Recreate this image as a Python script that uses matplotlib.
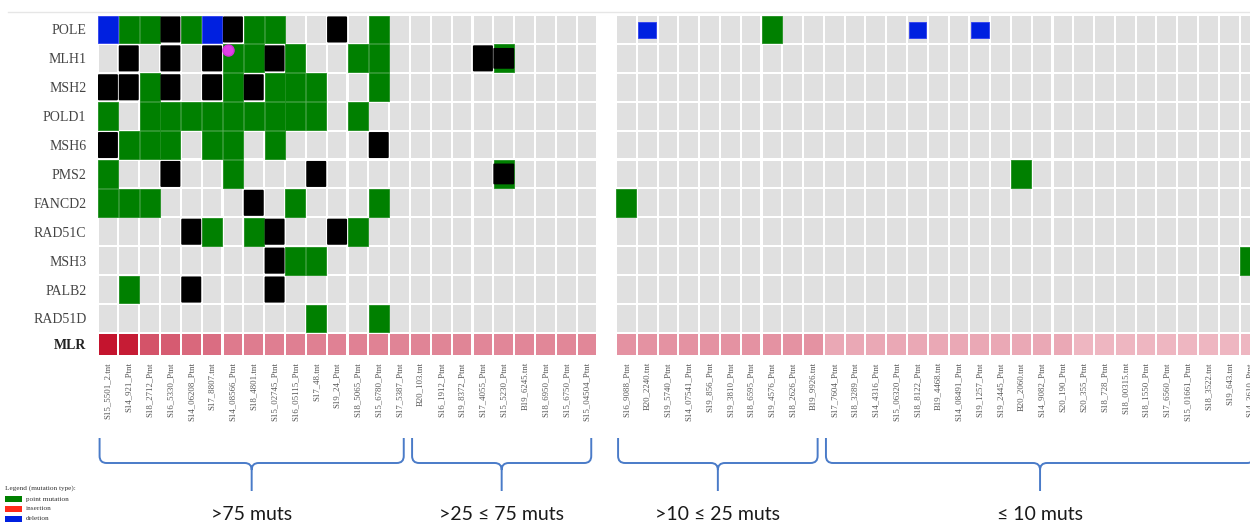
import numpy as np
import matplotlib
matplotlib.use("Agg")
import matplotlib.pyplot as plt
from matplotlib.patches import Rectangle, FancyBboxPatch, PathPatch
from matplotlib.path import Path
from matplotlib.colors import LinearSegmentedColormap

# ---------------- data ----------------
genes = ["POLE", "MLH1", "MSH2", "POLD1", "MSH6", "PMS2", "FANCD2",
         "RAD51C", "MSH3", "PALB2", "RAD51D"]

samples_left = ["S15_5501_2.tnt", "S14_921_Ptnt", "S18_2712_Ptnt", "S16_5330_Ptnt",
                "S14_06208_Ptnt", "S17_8807.tnt", "S14_08566_Ptnt", "S18_4801.tnt",
                "S15_02745_Ptnt", "S16_05115_Ptnt", "S17_48.tnt", "S19_24_Ptnt",
                "S18_5065_Ptnt", "S15_6780_Ptnt", "S17_5387_Ptnt", "B20_103.tnt",
                "S16_1912_Ptnt", "S19_8372_Ptnt", "S17_4055_Ptnt", "S15_5230_Ptnt",
                "B19_6245.tnt", "S18_6950_Ptnt", "S15_6750_Ptnt", "S15_04504_Ptnt"]

samples_right = ["S16_9088_Ptnt", "B20_2240.tnt", "S19_5740_Ptnt", "S14_07541_Ptnt",
                 "S19_856_Ptnt", "S19_3810_Ptnt", "S18_6595_Ptnt", "S19_4576_Ptnt",
                 "S18_2626_Ptnt", "B19_9926.tnt", "S17_7604_Ptnt", "S18_3289_Ptnt",
                 "S14_4316_Ptnt", "S15_06320_Ptnt", "S18_8122_Ptnt", "B19_4468.tnt",
                 "S14_08491_Ptnt", "S19_1257_Ptnt", "S19_2445_Ptnt", "B20_2060.tnt",
                 "S14_9082_Ptnt", "S20_190_Ptnt", "S20_355_Ptnt", "S18_728_Ptnt",
                 "S18_00315.tnt", "S18_1550_Ptnt", "S17_6560_Ptnt", "S15_01661_Ptnt",
                 "S18_3522.tnt", "S19_643.tnt", "S14_3610_Ptnt"]

# G = point mutation, B = deletion, K = other (black), X = point mutation + other, . = none
muts_left = {
    "POLE":   "BGGKGBKGG..K.G..........",
    "MLH1":   ".K.K.KGGKG..GG....KX....",
    "MSH2":   "KKGK.KGKGGG..G..........",
    "POLD1":  "G.GGGGGGGGG.G...........",
    "MSH6":   "KGGG.GG.G....K..........",
    "PMS2":   "G..K..G...K........X....",
    "FANCD2": "GGG....K.G...G..........",
    "RAD51C": "....KG.GK..KG...........",
    "MSH3":   "........KGG.............",
    "PALB2":  ".G..K...K...............",
    "RAD51D": "..........G..G..........",
}
muts_right = {
    "POLE":   ".B.....G......B..B.............",
    "MLH1":   "...............................",
    "MSH2":   "...............................",
    "POLD1":  "...............................",
    "MSH6":   "...............................",
    "PMS2":   "...................G...........",
    "FANCD2": "G..............................",
    "RAD51C": "...............................",
    "MSH3":   "..............................G",
    "PALB2":  "...............................",
    "RAD51D": "...............................",
}

mlr_left = [1.00, 0.97, 0.78, 0.75, 0.71, 0.69, 0.61, 0.59, 0.58, 0.57, 0.56, 0.55,
            0.55, 0.54, 0.53, 0.53, 0.52, 0.52, 0.51, 0.51, 0.51, 0.50, 0.50, 0.50]
mlr_right = [0.40] * 10 + [0.24] * 12 + [0.14] * 9

highlight = ("MLH1", "S14_08566_Ptnt")   # magenta marker

groups = [  # (label, panel, first column, last column)
    (">75 muts", "L", 0, 14),
    (">25 \u2264 75 muts", "L", 15, 23),
    (">10 \u2264 25 muts", "R", 0, 9),
    ("\u2264 10 muts", "R", 10, 30),
]

legend_items = [("point mutation", "#008000"), ("insertion", "#ff2a1a"), ("deletion", "#0020e0")]

# ---------------- style ----------------
W, H = 1250, 529
GREEN, BLACK, BLUE, GRAY = "#008000", "#000000", "#0020e0", "#e0e0e0"
cmap = LinearSegmentedColormap.from_list("mlr", ["#f4cad2", "#e69aa9", "#dc7488", "#c4142e"])
SERIF = ["Liberation Serif", "DejaVu Serif"]

fig = plt.figure(figsize=(W / 100, H / 100), dpi=100)
fig.patch.set_facecolor("white")

unit = 500 / 24.0
axL = fig.add_axes([97.5 / W, 1 - 356 / H, 500 / W, 341 / H])
axR = fig.add_axes([616 / W, 1 - 356 / H, 634 / W, 341 / H])


def draw_panel(ax, samples, muts, mlr, right=False):
    n = len(samples)
    ax.set_xlim(0, (ax.get_position().width * W) / unit)
    ax.set_ylim(11.8, 0)
    for r, g in enumerate(genes):
        row = muts[g]
        for c in range(n):
            ax.add_patch(Rectangle((c + 0.05, r + 0.035), 0.9, 0.93, fc=GRAY, ec="none", zorder=1))
        for c, code in enumerate(row):
            if code in "GX":
                ax.add_patch(Rectangle((c + 0.02, r + 0.02), 0.96, 0.96, fc=GREEN,
                                       ec="#1f8f1f", lw=0.6, zorder=2))
            if code == "K":
                ax.add_patch(FancyBboxPatch((c + 0.02, r + 0.05), 0.96, 0.9,
                                            boxstyle="round,pad=0,rounding_size=0.04",
                                            fc=BLACK, ec="none", zorder=3))
            if code == "X":
                ax.add_patch(FancyBboxPatch((c + 0.0, r + 0.14), 1.0, 0.72,
                                            boxstyle="round,pad=0,rounding_size=0.04",
                                            fc=BLACK, ec="none", zorder=3))
            if code == "B":
                if right:
                    ax.add_patch(Rectangle((c + 0.08, r + 0.24), 0.84, 0.56, fc=BLUE,
                                           ec="#3040f0", lw=0.6, zorder=2))
                else:
                    ax.add_patch(Rectangle((c + 0.02, r + 0.04), 0.96, 0.92, fc=BLUE,
                                           ec="#3040f0", lw=0.6, zorder=2))
    for c, v in enumerate(mlr):
        ax.add_patch(Rectangle((c + 0.05, 11 + 0.03), 0.9, 0.74, fc=cmap(v), ec="none", zorder=1))
    ax.set_xticks(np.arange(n) + 0.5)
    ax.set_xticklabels(samples, rotation=90, fontsize=6.3, family=SERIF, color="#555555")
    ax.tick_params(axis="x", length=0, pad=4.5)
    for s in ax.spines.values():
        s.set_visible(False)
    ax.patch.set_visible(False)


draw_panel(axL, samples_left, muts_left, mlr_left)
draw_panel(axR, samples_right, muts_right, mlr_right, right=True)

axL.set_yticks(list(np.arange(len(genes)) + 0.5) + [11.4])
axL.set_yticklabels(genes + ["MLR"], fontsize=10, family=SERIF, color="#444444")
axL.get_yticklabels()[-1].set_fontweight("bold")
axL.get_yticklabels()[-1].set_color("#222222")
axL.tick_params(axis="y", length=0, pad=8)
axR.set_yticks([])

# highlight marker
hr = genes.index(highlight[0])
hc = samples_left.index(highlight[1])
axL.plot([hc + 0.25], [hr + 0.22], "o", color="#e040e8", ms=8, mec="#d030d8", zorder=5, clip_on=False)

# ---------------- overlay: braces, legend ----------------
ov = fig.add_axes([0, 0, 1, 1])
ov.set_xlim(0, W)
ov.set_ylim(H, 0)
ov.axis("off")
ov.patch.set_visible(False)

# frame line at top
ov.plot([8, W], [12, 12], color="#e6e6e6", lw=1)

panels = {"L": axL, "R": axR}


def to_px(ax, x):
    d = ax.transData.transform((x, 0))
    return ov.transData.inverted().transform(d)[0]


ytop, ymid, ybot, rr = 438, 463, 491, 7
for label, p, c0, c1 in groups:
    ax = panels[p]
    x0 = to_px(ax, c0 + 0.1)
    x1 = to_px(ax, c1 + 0.7)
    xc = (x0 + x1) / 2
    verts = [(x0, ytop), (x0, ymid - rr), (x0, ymid), (x0 + rr, ymid),
             (xc - rr, ymid), (xc, ymid), (xc, ymid + rr), (xc, ybot),
             (x1, ytop), (x1, ymid - rr), (x1, ymid), (x1 - rr, ymid),
             (xc + rr, ymid), (xc, ymid), (xc, ymid + rr)]
    codes = [Path.MOVETO, Path.LINETO, Path.CURVE3, Path.CURVE3,
             Path.LINETO, Path.CURVE3, Path.CURVE3, Path.LINETO,
             Path.MOVETO, Path.LINETO, Path.CURVE3, Path.CURVE3,
             Path.LINETO, Path.CURVE3, Path.CURVE3]
    ov.add_patch(PathPatch(Path(verts, codes), fc="none", ec="#4a7bc8", lw=1.4))
    ov.text(xc, 515, label, ha="center", va="center", fontsize=14,
            family=["Lato", "DejaVu Sans"], color="#1a1a1a")

ov.text(5, 488, "Legend (mutation type):", fontsize=5.2, family=SERIF, color="#333333",
        ha="left", va="center")
for i, (name, col) in enumerate(legend_items):
    y = 499 + i * 10
    ov.add_patch(Rectangle((5, y - 3), 17, 6, fc=col, ec="none"))
    ov.text(26, y, name, fontsize=5.2, family=SERIF, color="#333333", ha="left", va="center")

fig.savefig("out.png", dpi=100, facecolor="white")
